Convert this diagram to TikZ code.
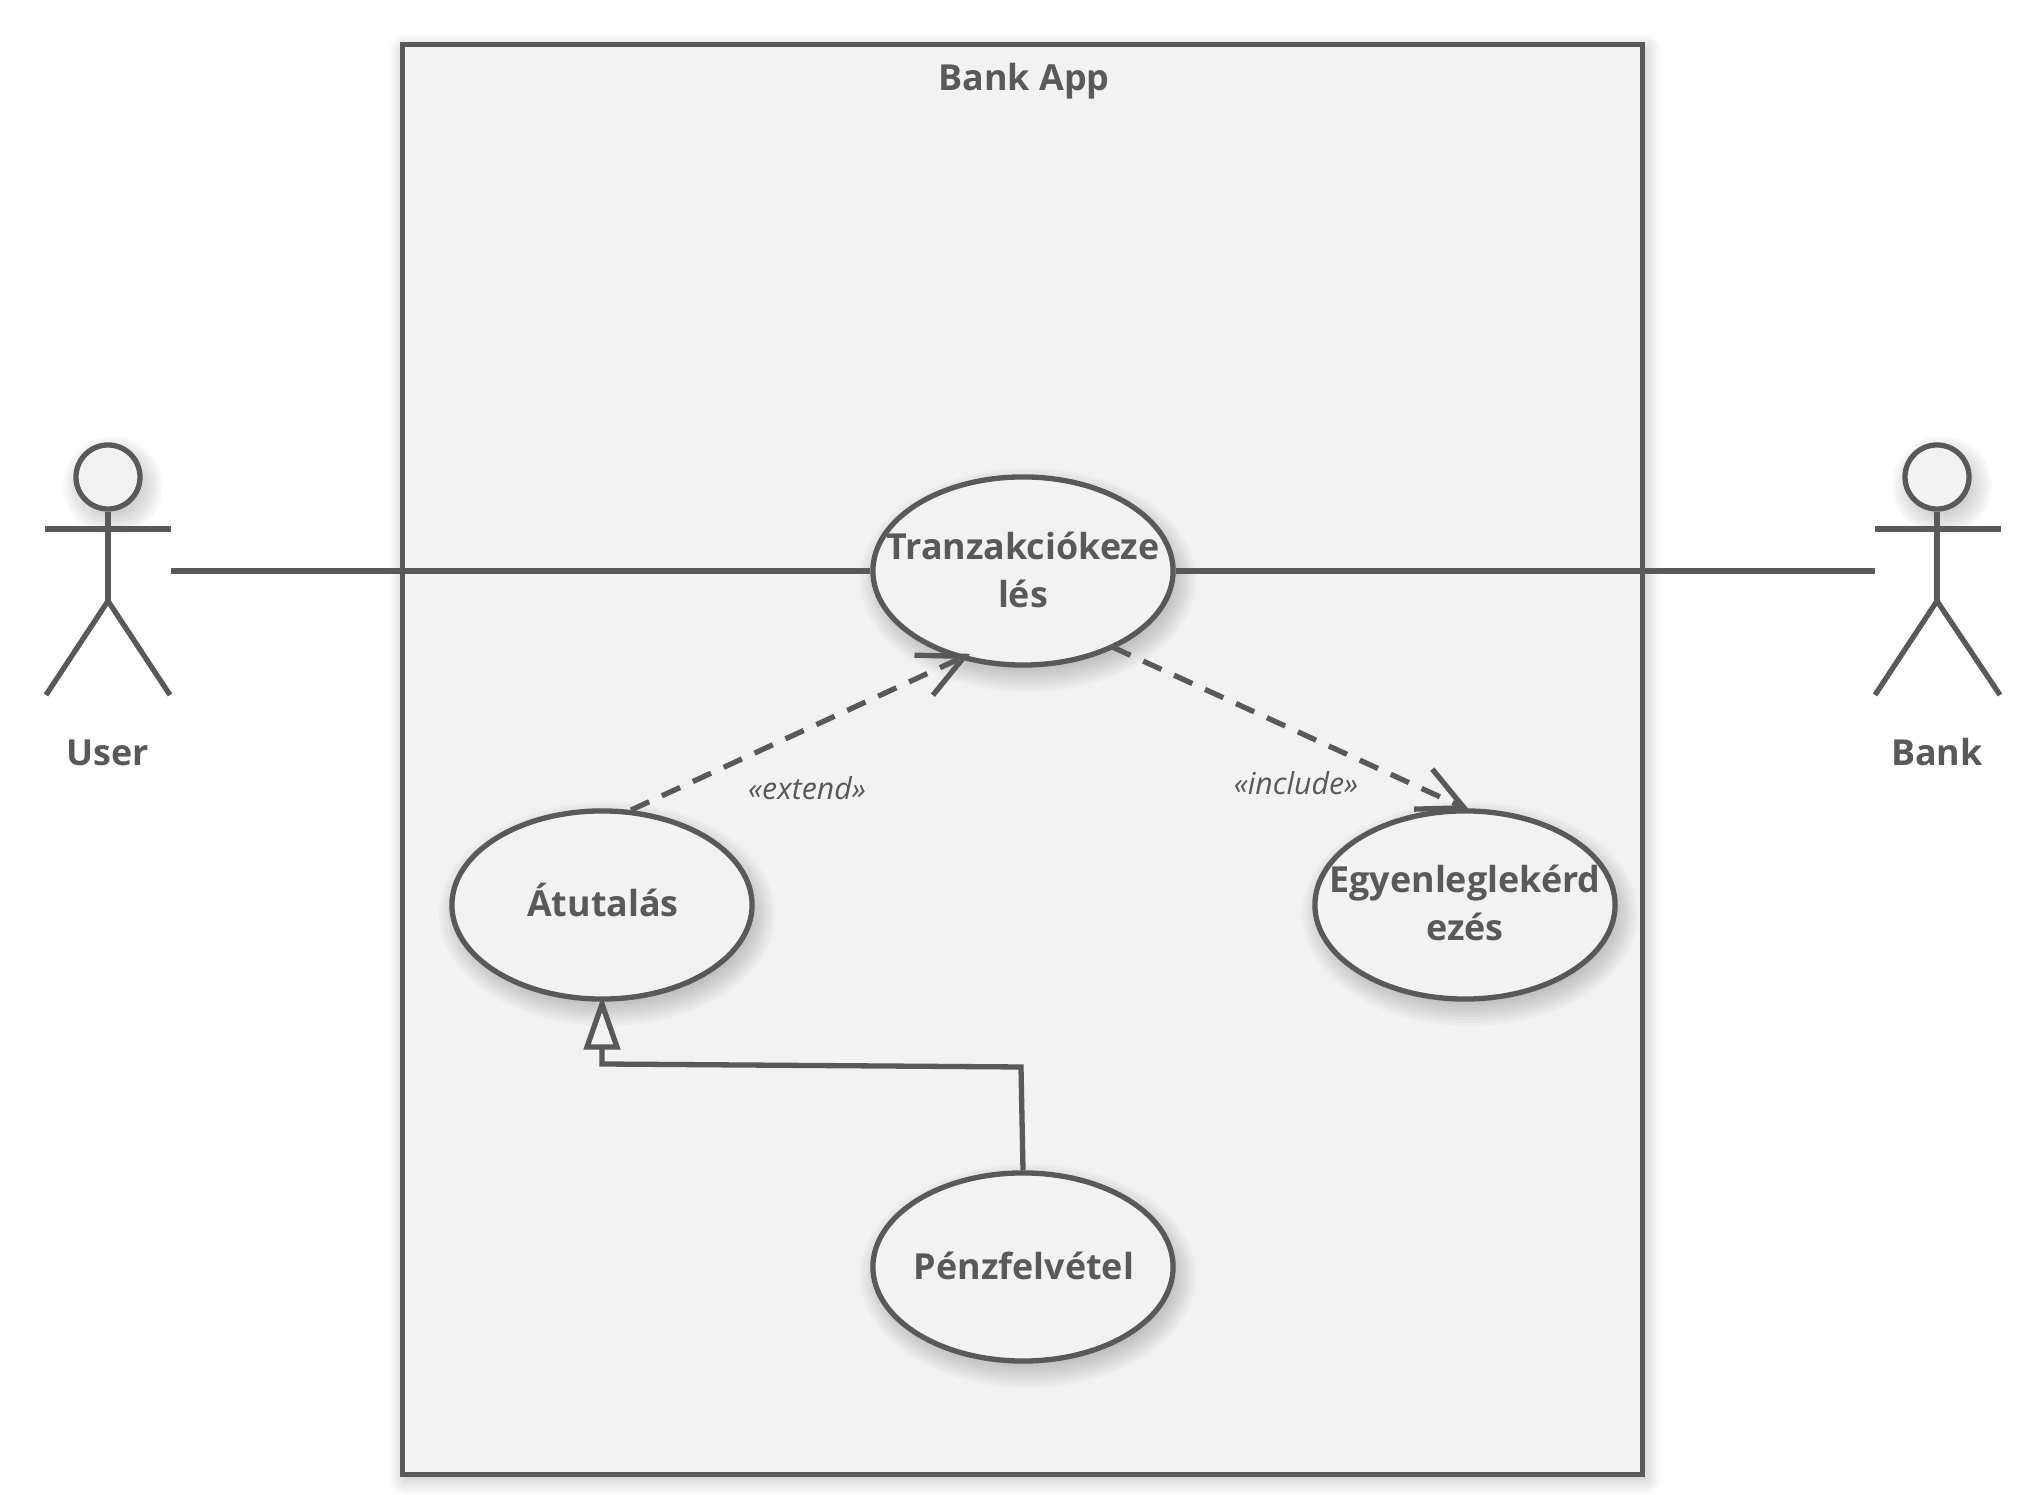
\documentclass[tikz,border=0pt]{standalone}
\usepackage{fontspec}
\setmainfont{Open Sans}
\usetikzlibrary{arrows.meta,shapes.geometric,shadows.blur}
\definecolor{umlline}{HTML}{595959}
\definecolor{umlfill}{HTML}{F2F2F2}
\newcommand{\softoval}[3]{\foreach \glowstep in {-6,-3,...,18} \fill [black, opacity=.022, shift={(#1)}] (5,9) ellipse [x radius=#2+\glowstep, y radius=#3+\glowstep];}
\tikzset{
	softshadow/.style={blur shadow={shadow xshift=.03cm,shadow yshift=-.05cm,shadow blur radius=.17cm,shadow opacity=28,shadow blur steps=12}},
	umlstroke/.style={draw=umlline, line width=.053cm},
	appbox/.style={umlstroke, fill=umlfill, softshadow, rectangle, minimum width=12.39cm, minimum height=14.29cm, inner sep=0},
	usecase/.style={umlstroke, fill=umlfill, ellipse, minimum width=3cm, minimum height=1.88cm, inner sep=0},
	actorhead/.style={umlstroke, fill=umlfill, circle, minimum size=.64cm, inner sep=0},
	boldtext/.style={text=umlline, inner sep=0, align=center, font=\fontsize{10.2}{13.7}\selectfont\bfseries},
	stereotext/.style={text=umlline, inner sep=0, font=\fontsize{8.6}{10}\selectfont\itshape},
	dependency/.style={umlstroke, dash pattern=on .2cm off .14cm, -{Straight Barb[length=.45cm,width=.44cm]}},
	generalize/.style={umlstroke, shorten >=-.06cm, -{Triangle[fill=umlfill,length=.54cm,width=.36cm]}}
}
\begin{document}
\begin{tikzpicture}[x=.01cm,y=-.01cm]
	\useasboundingbox (0,0) rectangle (2020,1495);
	\node [appbox] (app) at (1022.5,759.5) {};
	\node [boldtext] (apptitle) at (1024,81) {Bank App};
	% actors
	\softoval{108,477}{32}{32}
	\node [actorhead] (userhead) at (108,477) {};
	\coordinate (userarml) at (45,529);
	\coordinate (userarmr) at (171,529);
	\coordinate (userhip) at (108,601);
	\coordinate (userfootl) at (46,695);
	\coordinate (userfootr) at (170,695);
	\coordinate (userhand) at (171,571);
	\draw [umlstroke] (userhead.south)--(userhip);
	\draw [umlstroke] (userarml)--(userarmr);
	\draw [umlstroke] (userfootl)--(userhip)--(userfootr);
	\node [boldtext] (username) at (108,753) {User};
	\softoval{1937,477}{32}{32}
	\node [actorhead] (bankhead) at (1937,477) {};
	\coordinate (bankarml) at (1875,529);
	\coordinate (bankarmr) at (2001,529);
	\coordinate (bankhip) at (1937,601);
	\coordinate (bankfootl) at (1875,695);
	\coordinate (bankfootr) at (2000,695);
	\coordinate (bankhand) at (1875,571);
	\draw [umlstroke] (bankhead.south)--(bankhip);
	\draw [umlstroke] (bankarml)--(bankarmr);
	\draw [umlstroke] (bankfootl)--(bankhip)--(bankfootr);
	\node [boldtext] (bankname) at (1937,752) {Bank};
	% use cases
	\softoval{1023,571}{150}{94}
	\softoval{602,905}{150}{94}
	\softoval{1465,905}{150}{94}
	\softoval{1023,1267}{150}{94}
	\node [usecase] (tranz) at (1023,571) {};
	\node [usecase] (atut) at (602,905) {};
	\node [usecase] (egyen) at (1465,905) {};
	\node [usecase] (penz) at (1023,1267) {};
	\coordinate (genknee1) at (1021,1067);
	\coordinate (genknee2) at (602,1064);
	\draw [umlstroke] (userhand)--(tranz.west);
	\draw [umlstroke] (tranz.east)--(bankhand);
	\draw [dependency, shorten >=-.12cm] (atut.73)--(tranz.234);
	\draw [dependency, shorten <=-.03cm, shorten >=-.05cm] (tranz.320)--(egyen.north);
	\draw [generalize] (penz.north)--(genknee1)--(genknee2)--(atut.south);
	\node [boldtext] (tranzname) at (1023,570) {Tranzakciókeze\\lés};
	\node [boldtext] (atutname) at (603,900) {Átutalás};
	\node [boldtext] (egyenname) at (1465,903) {Egyenleglekérd\\ezés};
	\node [boldtext] (penzname) at (1024,1266) {Pénzfelvétel};
	\node [stereotext] (extendlabel) at (807,788) {«extend»};
	\node [stereotext] (includelabel) at (1296,783) {«include»};
\end{tikzpicture}
\end{document}
